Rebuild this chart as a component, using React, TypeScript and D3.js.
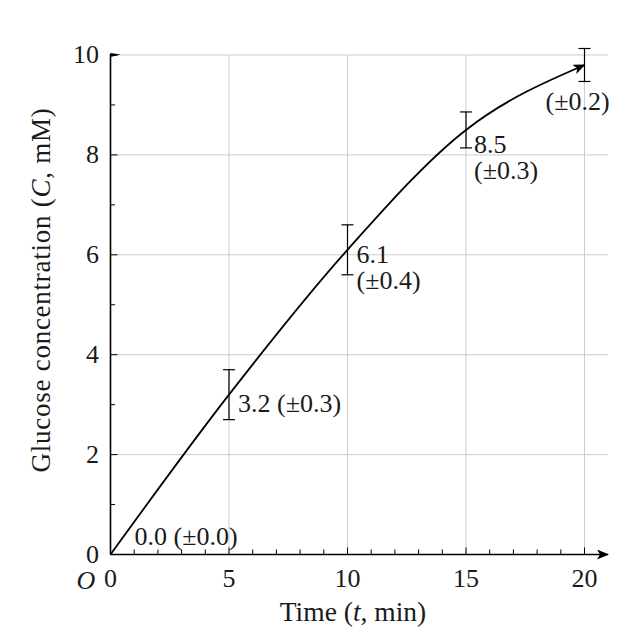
import React from "react";
import * as d3 from "d3";

// ---- data ----
const times = [0, 5, 10, 15, 20];
const glucose = [0.0, 3.2, 6.1, 8.5, 9.8];
const errBarHalf = [0, 0.5, 0.5, 0.36, 0.33];
const errLabel = [0.0, 0.3, 0.4, 0.3, 0.2];
const xMajorTicks = [0, 5, 10, 15, 20];
const yMajorTicks = [0, 2, 4, 6, 8, 10];
const xMinorTicks = d3.range(0, 21, 1);
const yMinorTicks = d3.range(0, 11, 1);

// ---- layout ----
const W = 640;
const H = 640;
const FONT = '"Liberation Serif", "DejaVu Serif", serif';
const labelLayout = [
  { dx: 24, dy: -10, lines: (i: number) => [`${glucose[i].toFixed(1)} (±${errLabel[i].toFixed(1)})`] },
  { dx: 9, dy: 17, lines: (i: number) => [`${glucose[i].toFixed(1)} (±${errLabel[i].toFixed(1)})`] },
  { dx: 9, dy: 13, lines: (i: number) => [`${glucose[i].toFixed(1)}`, `(±${errLabel[i].toFixed(1)})`] },
  { dx: 8, dy: 23, lines: (i: number) => [`${glucose[i].toFixed(1)}`, `(±${errLabel[i].toFixed(1)})`] },
  { dx: -39, dy: 45, lines: (i: number) => [`(±${errLabel[i].toFixed(1)})`] },
];

export default function App() {
  const x = d3.scaleLinear().domain([0, 20]).range([110.5, 584.5]);
  const y = d3.scaleLinear().domain([0, 10]).range([554.5, 55]);
  const pts: [number, number][] = times.map((t, i) => [x(t), y(glucose[i])]);
  const line = d3.line().curve(d3.curveMonotoneX)(pts) || "";
  const gridColor = "#cccccc";
  const textColor = "#1a1a1a";
  const x0 = x(0);
  const y0 = y(0);
  const xEnd = 608;

  return (
    <svg
      width={W}
      height={H}
      viewBox={`0 0 ${W} ${H}`}
      style={{ position: "absolute", left: 0, top: 0, background: "#fff", fontFamily: FONT }}
    >
      <defs>
        <marker
          id="stealth"
          viewBox="0 0 12 10"
          refX="11"
          refY="5"
          markerWidth="12"
          markerHeight="10"
          markerUnits="userSpaceOnUse"
          orient="auto"
        >
          <path d="M0,0 L12,5 L0,10 L3,5 Z" fill="#000" />
        </marker>
      </defs>
      <g stroke={gridColor} strokeWidth={1}>
        {xMajorTicks.filter((t) => t > 0).map((t) => (
          <line key={"gx" + t} x1={x(t)} x2={x(t)} y1={y0} y2={y(10)} />
        ))}
        {yMajorTicks.filter((t) => t > 0).map((t) => (
          <line key={"gy" + t} x1={x0} x2={xEnd} y1={y(t)} y2={y(t)} />
        ))}
      </g>
      <g stroke="#000" strokeWidth={1}>
        {xMinorTicks.map((t) => (
          <line key={"tx" + t} x1={x(t)} x2={x(t)} y1={y0} y2={y0 - (t % 5 === 0 ? 7 : 5)} />
        ))}
        {yMinorTicks.map((t) => (
          <line key={"ty" + t} x1={x0} x2={x0 + (t % 2 === 0 ? 7 : 4.5)} y1={y(t)} y2={y(t)} />
        ))}
      </g>
      <line x1={x0} x2={xEnd} y1={y0} y2={y0} stroke="#000" strokeWidth={1.6} markerEnd="url(#stealth)" />
      <line x1={x0} x2={x0} y1={y0} y2={y(10) - 1} stroke="#000" strokeWidth={1.6} />
      <path d={`M${x0},${y(10) - 2} L${x0 + 10},${y(10) - 0.5} L${x0},${y(10) + 2} Z`} fill="#000" />
      <g fontSize={26} fill={textColor}>
        {xMajorTicks.map((t) => (
          <text key={"lx" + t} x={x(t)} y={587} textAnchor="middle">
            {t}
          </text>
        ))}
        {yMajorTicks.map((t) => (
          <text key={"ly" + t} x={99} y={y(t) + 8} textAnchor="end">
            {t}
          </text>
        ))}
        <text x={86} y={589} textAnchor="middle" fontStyle="italic">
          O
        </text>
      </g>
      <path d={line} fill="none" stroke="#000" strokeWidth={1.8} markerEnd="url(#stealth)" />
      <g stroke="#000" strokeWidth={1.2}>
        {times.map((t, i) =>
          errBarHalf[i] > 0 ? (
            <g key={"e" + i}>
              <line x1={x(t)} x2={x(t)} y1={y(glucose[i] - errBarHalf[i])} y2={y(glucose[i] + errBarHalf[i])} />
              <line x1={x(t) - 6} x2={x(t) + 6} y1={y(glucose[i] - errBarHalf[i])} y2={y(glucose[i] - errBarHalf[i])} />
              <line x1={x(t) - 6} x2={x(t) + 6} y1={y(glucose[i] + errBarHalf[i])} y2={y(glucose[i] + errBarHalf[i])} />
            </g>
          ) : null
        )}
      </g>
      <g fontSize={26} fill={textColor}>
        {times.map((t, i) => {
          const lay = labelLayout[i];
          const lines = lay.lines(i);
          return (
            <text key={"a" + i} x={x(t) + lay.dx} y={y(glucose[i]) + lay.dy}>
              {lines.map((s, k) => (
                <tspan key={k} x={x(t) + lay.dx} dy={k === 0 ? 0 : 26}>
                  {s}
                </tspan>
              ))}
            </text>
          );
        })}
      </g>
      <text x={353} y={621} textAnchor="middle" fontSize={27.5} fill={textColor}>
        Time (<tspan fontStyle="italic">t</tspan>, min)
      </text>
      <text
        transform={`translate(50, ${290}) rotate(-90)`}
        textAnchor="middle"
        fontSize={27}
        fill={textColor}
        letterSpacing={0.75}
      >
        Glucose concentration (<tspan fontStyle="italic">C</tspan>, mM)
      </text>
    </svg>
  );
}
